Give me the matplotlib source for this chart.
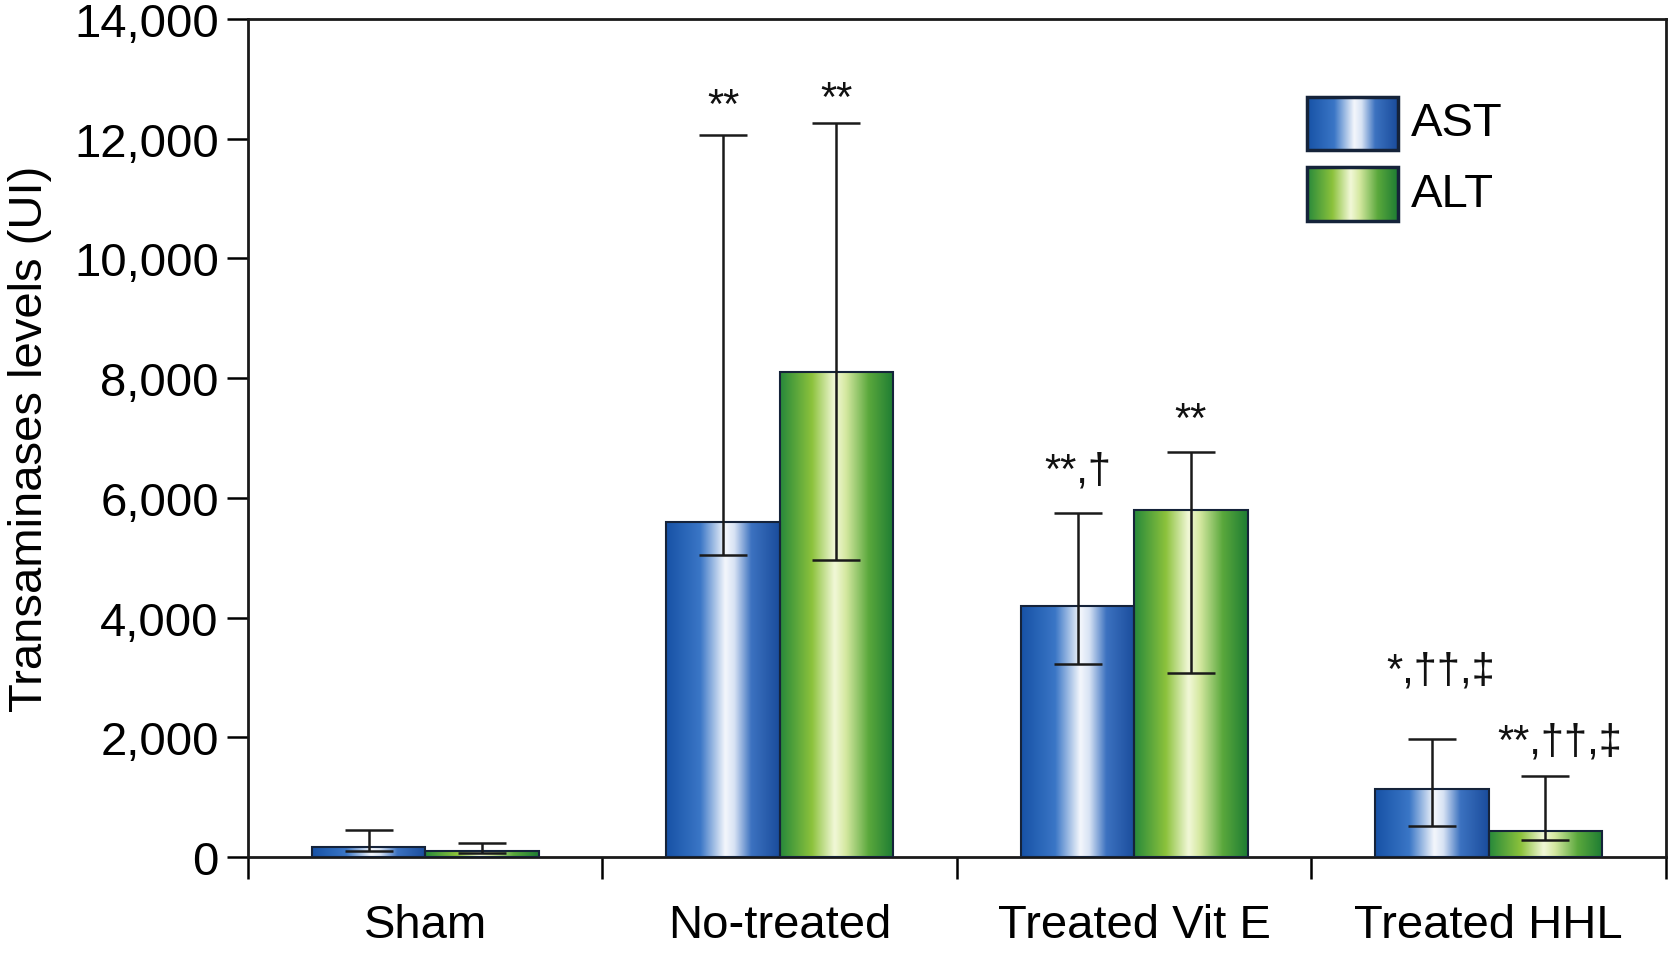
import numpy as np
import matplotlib
matplotlib.use('Agg')
import matplotlib.pyplot as plt
from matplotlib.colors import LinearSegmentedColormap
from matplotlib.ticker import FuncFormatter, FixedLocator

# data
groups = ["Sham", "No-treated", "Treated Vit E", "Treated HHL"]
ast_mean = [160, 5600, 4200, 1140]
ast_err_low = [60, 560, 980, 620]
ast_err_high = [290, 6460, 1540, 840]
alt_mean = [100, 8100, 5800, 440]
alt_err_low = [40, 3130, 2720, 160]
alt_err_high = [130, 4170, 970, 910]
ast_marks = ["", "**", "**,\u2020", "*,\u2020\u2020,\u2021"]
alt_marks = ["", "**", "**", "**,\u2020\u2020,\u2021"]

plt.rcParams['font.family'] = ['Liberation Sans', 'DejaVu Sans']

blue_cmap = LinearSegmentedColormap.from_list(
    "blue", [(0, '#1752a6'), (0.3, '#3a76c6'), (0.52, '#f4f7fc'),
             (0.6, '#d8e3f4'), (0.75, '#3c72c0'), (1, '#1a4c9c')])
green_cmap = LinearSegmentedColormap.from_list(
    "green", [(0, '#27893a'), (0.28, '#8cc23c'), (0.48, '#f2f8d8'),
              (0.58, '#d4e8a0'), (0.78, '#5aa83c'), (1, '#1d7c33')])
grad = np.linspace(0, 1, 256).reshape(1, -1)

fig = plt.figure(figsize=(16.71, 9.54), dpi=100)
ax = fig.add_axes([0.1484, 0.1006, 0.8486, 0.8784])

x = np.arange(len(groups))
w = 0.32


def gradient_bars(xs, heights, cmap):
    for xi, h in zip(xs, heights):
        ax.imshow(grad, cmap=cmap, extent=[xi - w / 2, xi + w / 2, 0, h],
                  aspect='auto', zorder=2, interpolation='bicubic')
    ax.bar(xs, heights, w, fill=False, edgecolor='#15233a', linewidth=1.5, zorder=3)


gradient_bars(x - w / 2, ast_mean, blue_cmap)
gradient_bars(x + w / 2, alt_mean, green_cmap)

ax.errorbar(x - w / 2, ast_mean, yerr=[ast_err_low, ast_err_high], fmt='none',
            ecolor='#1a1a1a', elinewidth=1.8, capsize=17, capthick=1.8, zorder=4)
ax.errorbar(x + w / 2, alt_mean, yerr=[alt_err_low, alt_err_high], fmt='none',
            ecolor='#1a1a1a', elinewidth=1.8, capsize=17, capthick=1.8, zorder=4)

# offsets (points) of the significance marks above the error caps
ast_off = [(0, 0), (0, 13), (0, 23), (6, 41)]
alt_off = [(0, 0), (0, 9), (0, 15), (10, 17)]
for i in range(len(groups)):
    if ast_marks[i]:
        ax.annotate(ast_marks[i], (x[i] - w / 2, ast_mean[i] + ast_err_high[i]),
                    xytext=ast_off[i], textcoords='offset points',
                    ha='center', va='baseline', fontsize=30, color='#111111')
    if alt_marks[i]:
        ax.annotate(alt_marks[i], (x[i] + w / 2, alt_mean[i] + alt_err_high[i]),
                    xytext=alt_off[i], textcoords='offset points',
                    ha='center', va='baseline', fontsize=30, color='#111111')

ax.set_xlim(-0.5, len(groups) - 0.5)
ax.set_ylim(0, 14000)
ax.set_yticks(np.arange(0, 14001, 2000))
ax.yaxis.set_major_formatter(FuncFormatter(lambda v, p: f"{int(v):,}"))
ax.xaxis.set_major_locator(FixedLocator(np.arange(-0.5, len(groups), 1)))
ax.xaxis.set_major_formatter(FuncFormatter(lambda v, p: ""))
ax.xaxis.set_minor_locator(FixedLocator(x))
ax.set_xticklabels(groups, minor=True)
ax.tick_params(axis='x', which='major', length=16, width=1.8, direction='out')
ax.tick_params(axis='x', which='minor', length=0, pad=33, labelsize=34)
ax.tick_params(axis='y', length=15, width=1.8, pad=6, labelsize=34)
for sp in ax.spines.values():
    sp.set_linewidth(2.0)
    sp.set_color('#1a1a1a')

ax.set_ylabel("Transaminases levels (UI)", fontsize=34)
ax.yaxis.set_label_coords(-0.138, 0.5)

# legend with gradient swatches
for (y0, y1), cmap, name in [((0.844, 0.907), blue_cmap, "AST"),
                              ((0.759, 0.823), green_cmap, "ALT")]:
    ax.imshow(grad, cmap=cmap, extent=[0.747, 0.811, y0, y1], aspect='auto',
              transform=ax.transAxes, zorder=5, interpolation='bicubic')
    ax.add_patch(plt.Rectangle((0.747, y0), 0.064, y1 - y0, transform=ax.transAxes,
                               fill=False, edgecolor='#15233a', linewidth=2.5, zorder=6))
    ax.text(0.820, (y0 + y1) / 2, name, transform=ax.transAxes, ha='left',
            va='center', fontsize=34)

ax.set_xlim(-0.5, len(groups) - 0.5)
ax.set_ylim(0, 14000)

fig.savefig("out.png", dpi=100, facecolor='w')
